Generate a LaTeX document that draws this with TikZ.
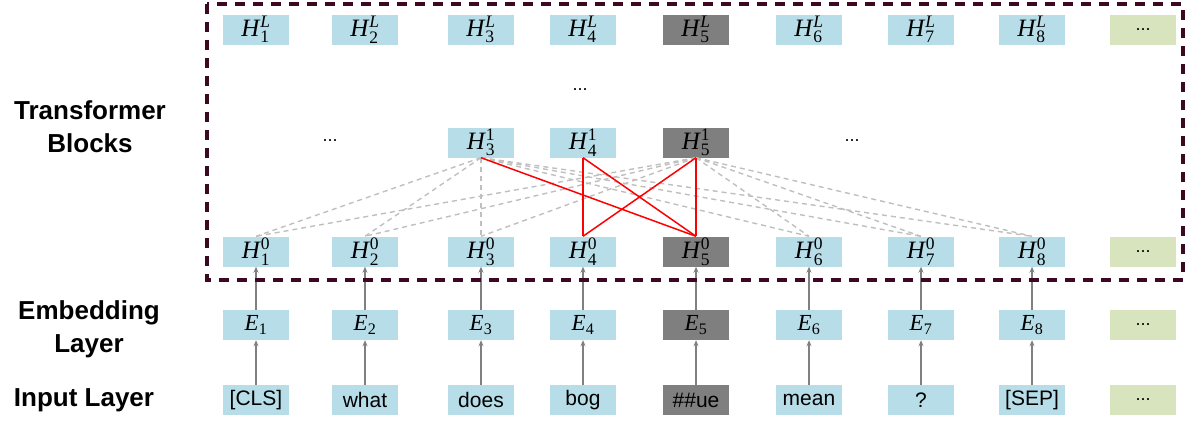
\documentclass[tikz,border=0pt]{standalone}
\usepackage{amsmath}
\usepackage{fontspec}
\setmainfont{Liberation Serif}
\setsansfont{Liberation Sans}
\usepackage{tikz}
\usetikzlibrary{positioning, calc, arrows.meta}

\definecolor{cellBlue}{RGB}{183, 222, 232}
\definecolor{maskGray}{RGB}{127, 127, 127}
\definecolor{moreGreen}{RGB}{215, 228, 189}
\definecolor{frameRed}{RGB}{60, 8, 34}
\definecolor{attnGray}{RGB}{191, 191, 191}
\definecolor{arrowGray}{RGB}{128, 128, 128}

\newcommand{\hvec}[2]{\textit{H}$^{\textrm{#1}}_{\textrm{#2}}$}
\newcommand{\evec}[1]{\textit{E}$_{\textrm{#1}}$}

\begin{document}
\begin{tikzpicture}[
    x=1pt, y=-1pt,
    cell/.style={rectangle, fill=cellBlue, minimum width=66pt, minimum height=30pt,
                 inner sep=0pt, font=\fontsize{25}{28}\selectfont},
    mask/.style={cell, fill=maskGray},
    more/.style={cell, fill=moreGreen, font=\sffamily\fontsize{18}{22}\selectfont},
    tok/.style={font=\sffamily\fontsize{21}{25}\selectfont},
    emb/.style={font=\fontsize{23}{26}\selectfont},
    dots/.style={font=\sffamily\fontsize{18}{22}\selectfont},
    layerLabel/.style={font=\sffamily\bfseries\fontsize{26}{33}\selectfont, align=center},
    attn/.style={attnGray, line width=1.4pt, dash pattern=on 5pt off 4pt},
    focus/.style={red, line width=1.5pt},
    up/.style={-{Stealth[length=6pt, width=5pt]}, arrowGray, line width=1.4pt},
  ]
    \useasboundingbox (0,0) rectangle (1190,423);

    % Layer names
    \node[layerLabel] (lblT) at (90,127) {Transformer\\Blocks};
    \node[layerLabel] (lblE) at (89,329) {Embedding\\Layer};
    \node[layerLabel] (lblI) at (84,400) {Input Layer};

    % Columns: input, embedding, H^0, H^L
    \foreach \i/\x/\st/\w in {1/256/cell/[CLS], 2/365/cell/what, 3/481/cell/does,
                              4/583/cell/bog, 5/696/mask/\#\#ue, 6/809/cell/mean,
                              7/921/cell/?, 8/1032/cell/[SEP]} {
      \node[\st, tok] (T\i) at (\x,400) {\w};
      \node[\st, emb] (E\i) at (\x,325) {\evec{\i}};
      \node[\st] (Z\i) at (\x,251.5) {\hvec{0}{\i}};
      \node[\st] (L\i) at (\x,29.5) {\hvec{\textit{L}}{\i}};
      \draw[up] (T\i) -- (E\i);
      \draw[up] (E\i) -- (Z\i);
    }
    \foreach \y/\name in {400/T9, 325/E9, 251.5/Z9, 29.5/L9} {
      \node[more] (\name) at (1143,\y) {...};
    }

    % First block
    \node[cell] (A3) at (481,142.5) {\hvec{1}{3}};
    \node[cell] (A4) at (583,142.5) {\hvec{1}{4}};
    \node[mask] (A5) at (696,142.5) {\hvec{1}{5}};
    \node[dots] (dotsL) at (330,141) {...};
    \node[dots] (dotsR) at (852,141) {...};
    \node[dots] (dotsM) at (580,90) {...};

    % Attention
    \foreach \s in {3,5} {
      \foreach \j in {1,2,3,6,7,8} { \draw[attn] (A\s.south) -- (Z\j.north); }
    }
    \draw[focus] (A3.south) -- (Z5.north);
    \draw[focus] (A4.south) -- (Z4.north);
    \draw[focus] (A4.south) -- (Z5.north);
    \draw[focus] (A5.south) -- (Z4.north);
    \draw[focus] (A5.south) -- (Z5.north);

    % Encoder frame
    \draw[frameRed, line width=3.5pt, dash pattern=on 10pt off 8pt]
      (207,4) rectangle (1183,280);
\end{tikzpicture}
\end{document}
